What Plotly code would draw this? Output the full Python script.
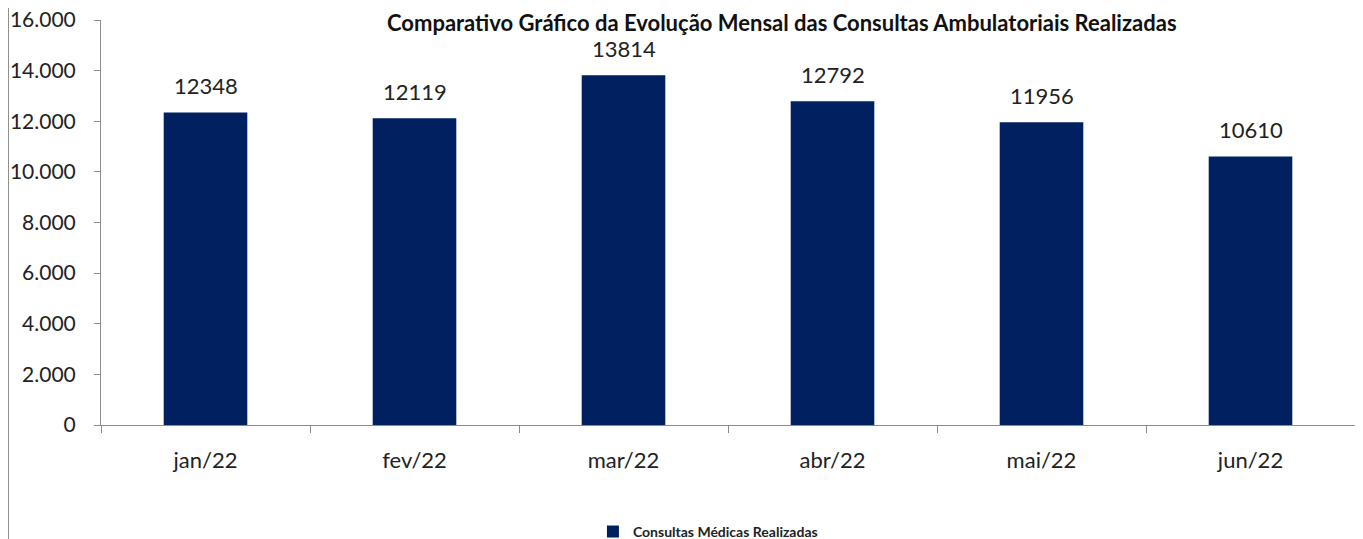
import plotly.graph_objects as go

# Monthly outpatient consultations
meses = ["jan/22", "fev/22", "mar/22", "abr/22", "mai/22", "jun/22"]
consultas = [12348, 12119, 13814, 12792, 11956, 10610]

titulo = "Comparativo Gráfico da Evolução Mensal das Consultas Ambulatoriais Realizadas"
serie = "Consultas Médicas Realizadas"

fig = go.Figure()
fig.add_trace(go.Bar(
    x=meses, y=consultas,
    name=serie,
    marker=dict(color="#002060", line=dict(width=0)),
    width=0.4,
    showlegend=True,
))

# value labels, floated well above the bars like in the original
for m, v in zip(meses, consultas):
    fig.add_annotation(
        x=m, y=v, text=str(v), showarrow=False,
        yanchor="middle", yshift=27,
        font=dict(family="Lato", size=22, color="#222222"),
    )

# the page adds an 8px body margin, so margins are trimmed to compensate
fig.update_layout(
    width=1363, height=539,
    margin=dict(l=93, r=16, t=12, b=122, autoexpand=False),
    plot_bgcolor="white", paper_bgcolor="white",
    separators=",.",
    font=dict(family="Lato", size=20, color="#222222"),
    bargap=0.6,
    showlegend=True,
    legend=dict(
        orientation="h", x=0.484, xanchor="center", y=-0.264, yanchor="middle",
        font=dict(family="Lato", size=14, color="#222222", weight="bold"),
        itemwidth=30,
    ),
    xaxis=dict(
        showline=True, linecolor="#8c8c8c", linewidth=1,
        ticks="outside", tickson="boundaries", ticklen=7, tickcolor="#8c8c8c",
        showgrid=False, automargin=False, ticklabelstandoff=16,
        tickfont=dict(family="Lato", size=22, color="#222222"),
    ),
    yaxis=dict(
        range=[0, 16000], dtick=2000, tickformat=",d",
        showline=True, linecolor="#8c8c8c", linewidth=1,
        ticks="outside", ticklen=6, tickcolor="#8c8c8c",
        showgrid=False, zeroline=False, automargin=False, ticklabelstandoff=14,
        ticklabeloverflow="allow",
        tickfont=dict(family="Lato", size=21, color="#222222"),
    ),
    shapes=[dict(
        type="line", xref="paper", yref="paper",
        x0=-0.0738, x1=-0.0738, y0=-0.35, y1=1.06,
        line=dict(color="#8c8c8c", width=1),
    )],
)

# title sits right at the top edge, as in the source image
fig.add_annotation(
    text="<b>" + titulo + "</b>", xref="paper", yref="paper",
    x=0.543, y=1.0296, xanchor="center", yanchor="top", showarrow=False,
    borderpad=0,
    font=dict(family="Lato", size=22, color="#111111"),
)

fig.write_html("out.html")
